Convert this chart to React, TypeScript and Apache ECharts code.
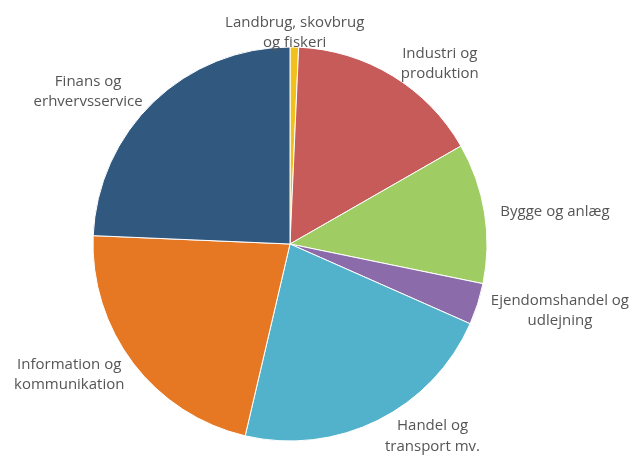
import React, { useEffect, useRef } from "react";
import * as echarts from "echarts";

const categories = [
  "Landbrug, skovbrug\nog fiskeri",
  "Industri og\nproduktion",
  "Bygge og anlæg",
  "Ejendomshandel og\nudlejning",
  "Handel og\ntransport mv.",
  "Information og\nkommunikation",
  "Finans og\nerhvervsservice",
];
const values = [0.7, 16.0, 11.5, 3.4, 22.0, 22.0, 24.3];
const colors = ["#F2C01C", "#C75B5A", "#A0CD63", "#8B6BAA", "#52B2CB", "#E67823", "#31597F"];

export default function App() {
  const ref = useRef<HTMLDivElement>(null);
  useEffect(() => {
    if (!ref.current) return;
    const chart = echarts.init(ref.current, null, { renderer: "svg" });
    const W = 643;
    const margin = 14;
    chart.setOption({
      animation: false,
      series: [
        {
          type: "pie",
          center: [290, 244],
          radius: 197,
          startAngle: 90,
          clockwise: true,
          avoidLabelOverlap: false,
          data: categories.map((c, i) => ({
            name: c,
            value: values[i],
            itemStyle: { color: colors[i] },
          })),
          itemStyle: { borderColor: "#ffffff", borderWidth: 1 },
          label: {
            show: true,
            position: "outside",
            formatter: "{b}",
            color: "#555555",
            fontFamily: "Open Sans",
            fontSize: 15,
            lineHeight: 20.5,
            align: "center",
          },
          labelLine: { show: false, length: 16, length2: 0 },
          labelLayout: (params: any) => {
            const r = params.labelRect;
            const pts = params.labelLinePoints;
            let cx = r.x + r.width / 2;
            let cy = r.y + r.height / 2;
            if (pts && pts.length >= 2) {
              const dx = pts[1][0] - pts[0][0];
              const dy = pts[1][1] - pts[0][1];
              const len = Math.sqrt(dx * dx + dy * dy) || 1;
              const ux = dx / len;
              const px = pts[1][0];
              const py = pts[1][1];
              cy = py;
              if (Math.abs(ux) < 0.3) {
                cx = px;
              } else {
                cx = px + (ux > 0 ? r.width / 2 : -r.width / 2);
              }
            }
            if (cx + r.width / 2 > W - margin) cx = W - margin - r.width / 2;
            if (cx - r.width / 2 < margin) cx = margin + r.width / 2;
            return {
              x: cx,
              y: cy,
              align: "center",
              verticalAlign: "middle",
            };
          },
        },
      ],
    });
    return () => chart.dispose();
  }, []);
  return (
    <div
      ref={ref}
      style={{ position: "fixed", left: 0, top: 0, width: 643, height: 456 }}
    />
  );
}
